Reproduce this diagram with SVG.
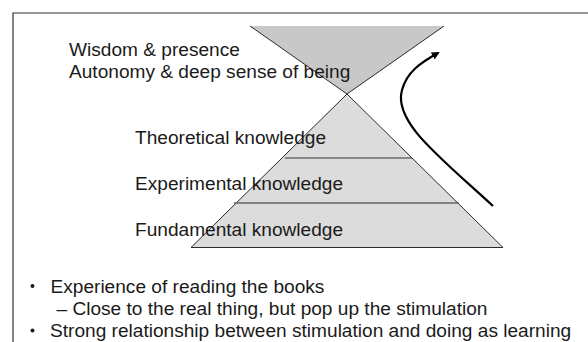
<svg xmlns="http://www.w3.org/2000/svg" width="588" height="342" viewBox="0 0 588 342">
<style>
.t{font-family:"Liberation Sans",Arial,sans-serif;font-size:19.1px;fill:#1a1a1a}
.edge{fill:none;stroke:#2a2a2a;stroke-width:1}
</style>
<defs>
<marker id="ah" markerWidth="8" markerHeight="8" refX="6" refY="4" orient="auto" markerUnits="userSpaceOnUse" viewBox="0 0 8 8">
<path d="M0,0 L8,4 L0,8 Z" fill="#000"/>
</marker>
</defs>
<rect width="588" height="342" fill="#fff"/>
<g id="frame">
<polyline points="13,342 13,13 588,13" fill="none" stroke="#333" stroke-width="1.2"/>
</g>
<g id="top-cone">
<polygon points="250,26 444,26 347,94" fill="#c8c8c8"/>
<polyline class="edge" points="250,26 347,94 444,26"/>
</g>
<g id="pyramid">
<polygon points="347,94 191,247.5 503,247.5" fill="#dcdcdc"/>
<polyline class="edge" points="503,247.5 347,94 191,247.5 503,247.5"/>
<line x1="285" y1="158" x2="412" y2="158" stroke="#333" stroke-width="1.2"/>
<line x1="234" y1="203" x2="459" y2="203" stroke="#666" stroke-width="1.5"/>
</g>
<g id="labels">
<text class="t" x="69" y="55.5">Wisdom &amp; presence</text>
<text class="t" x="69" y="77.5">Autonomy &amp; deep sense of being</text>
<text class="t" x="135" y="144">Theoretical knowledge</text>
<text class="t" x="135" y="190">Experimental knowledge</text>
<text class="t" x="135" y="236">Fundamental knowledge</text>
</g>
<g id="connectors">
<path d="M493,206 C440,157 393,122 402,90 C407,72 420,63 438,53" fill="none" stroke="#000" stroke-width="2.2" marker-end="url(#ah)"/>
</g>
<g id="bullets">
<circle cx="32.5" cy="286" r="2" fill="#1a1a1a"/>
<text class="t" x="50.5" y="292.5">Experience of reading the books</text>
<text class="t" x="56.5" y="315">– Close to the real thing, but pop up the stimulation</text>
<circle cx="32.5" cy="330.5" r="2" fill="#1a1a1a"/>
<text class="t" x="50" y="337">Strong relationship between stimulation and doing as learning</text>
</g>
</svg>
